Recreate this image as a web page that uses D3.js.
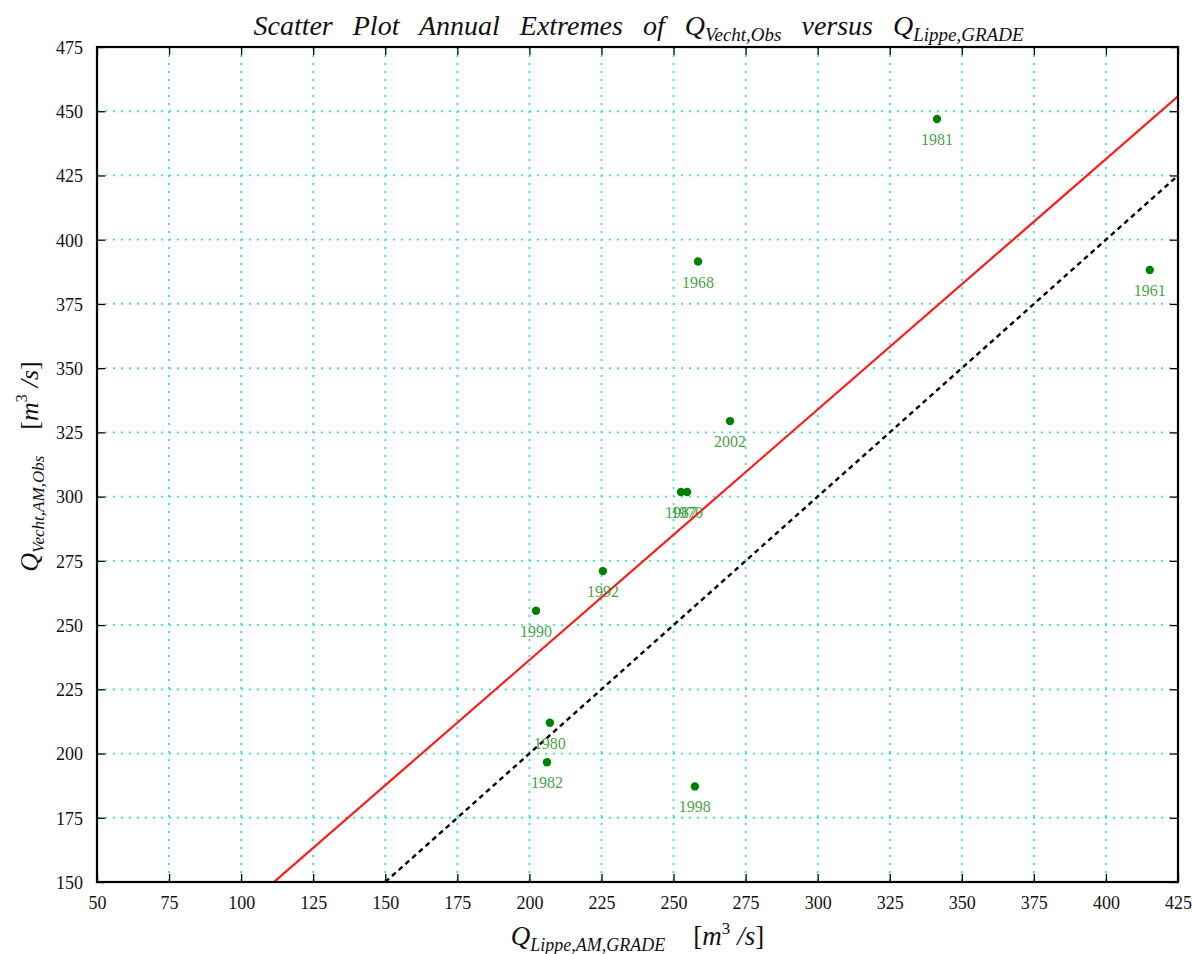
<!DOCTYPE html>
<html>
<head>
<meta charset="utf-8">
<script src="https://cdn.jsdelivr.net/npm/d3@7"></script>
<style>
  html, body { margin: 0; padding: 0; background: #fff; }
  svg { display: block; }
  text { font-family: "Liberation Serif", "DejaVu Serif", serif; }
</style>
</head>
<body>
<div id="chart"></div>
<script>
// Annual maxima: GRADE-simulated Lippe discharge vs observed Vecht discharge
const years  = [1981, 1968, 1961, 2002, 1987, 1970, 1992, 1990, 1980, 1982, 1998];
const qLippe = [341.4, 258.5, 415.2, 269.6, 252.6, 254.7, 225.5, 202.3, 207.1, 206.1, 257.4];
const qVecht = [447.0, 391.5, 388.2, 329.4, 301.8, 301.8, 271.0, 255.6, 212.0, 196.6, 187.2];

// Fitted line and 1:1 reference line
const fitSlope = 0.975;
const fitIntercept = 41.4;
const oneToOne = [[150, 150], [425, 425]];

// Axes
const xDomain = [50, 425];
const yDomain = [150, 475];
const xTicks = [50, 75, 100, 125, 150, 175, 200, 225, 250, 275, 300, 325, 350, 375, 400, 425];
const yTicks = [150, 175, 200, 225, 250, 275, 300, 325, 350, 375, 400, 425, 450, 475];

const W = 1192, H = 954;
const margin = { left: 97, right: 14, top: 47, bottom: 72 };
const plotW = W - margin.left - margin.right;
const plotH = H - margin.top - margin.bottom;

const svg = d3.select("#chart").append("svg").attr("width", W).attr("height", H);

const x = d3.scaleLinear().domain(xDomain).range([0, plotW]);
const y = d3.scaleLinear().domain(yDomain).range([plotH, 0]);

const g = svg.append("g").attr("transform", `translate(${margin.left},${margin.top})`);

svg.append("defs").append("clipPath").attr("id", "plotClip")
  .append("rect").attr("width", plotW).attr("height", plotH);

// Dotted cyan grid
const gridColor = "#38dede";
const grid = g.append("g");
grid.selectAll("line.vx").data(xTicks).join("line")
  .attr("x1", d => x(d)).attr("x2", d => x(d)).attr("y1", 0).attr("y2", plotH)
  .attr("stroke", gridColor).attr("stroke-width", 1.8).attr("stroke-dasharray", "2,6");
grid.selectAll("line.hy").data(yTicks).join("line")
  .attr("x1", 0).attr("x2", plotW).attr("y1", d => y(d)).attr("y2", d => y(d))
  .attr("stroke", gridColor).attr("stroke-width", 1.8).attr("stroke-dasharray", "2,6");

const lines = g.append("g").attr("clip-path", "url(#plotClip)");

// Fitted regression line
const fitX = [xDomain[0], xDomain[1]];
lines.append("path")
  .datum(fitX.map(v => [v, fitSlope * v + fitIntercept]))
  .attr("d", d3.line().x(d => x(d[0])).y(d => y(d[1])))
  .attr("fill", "none").attr("stroke", "#ff1a1a").attr("stroke-width", 2.2);

// 1:1 line
lines.append("path")
  .datum(oneToOne)
  .attr("d", d3.line().x(d => x(d[0])).y(d => y(d[1])))
  .attr("fill", "none").attr("stroke", "#000").attr("stroke-width", 2.4)
  .attr("stroke-dasharray", "5,4");

// Points and year labels
const pts = years.map((yr, i) => ({ yr, xv: qLippe[i], yv: qVecht[i] }));
g.append("g").selectAll("circle").data(pts).join("circle")
  .attr("cx", d => x(d.xv)).attr("cy", d => y(d.yv)).attr("r", 4.2)
  .attr("fill", "#008000");
g.append("g").selectAll("text").data(pts).join("text")
  .attr("x", d => x(d.xv)).attr("y", d => y(d.yv) + 26)
  .attr("text-anchor", "middle").attr("font-size", 16)
  .attr("fill", "#2e962e").attr("fill-opacity", 0.9)
  .text(d => d.yr);

// Axes with inward ticks on all four sides
const fmt = d3.format("d");
const axB = g.append("g").attr("transform", `translate(0,${plotH})`)
  .call(d3.axisBottom(x).tickValues(xTicks).tickFormat(fmt).tickSizeInner(-8).tickSizeOuter(0).tickPadding(14));
const axT = g.append("g")
  .call(d3.axisTop(x).tickValues(xTicks).tickFormat("").tickSizeInner(-8).tickSizeOuter(0));
const axL = g.append("g")
  .call(d3.axisLeft(y).tickValues(yTicks).tickFormat(fmt).tickSizeInner(-8).tickSizeOuter(0).tickPadding(14));
const axR = g.append("g").attr("transform", `translate(${plotW},0)`)
  .call(d3.axisRight(y).tickValues(yTicks).tickFormat("").tickSizeInner(-8).tickSizeOuter(0));
[axB, axT, axL, axR].forEach(a => {
  a.select(".domain").remove();
  a.selectAll(".tick line").attr("stroke", "#000").attr("stroke-width", 1.3);
  a.selectAll(".tick text").attr("font-size", 18).attr("fill", "#111")
    .attr("font-family", "'Liberation Serif', serif");
});
axL.selectAll(".tick text").attr("dy", "0.35em");

// Frame
g.append("rect").attr("width", plotW).attr("height", plotH)
  .attr("fill", "none").attr("stroke", "#000").attr("stroke-width", 2.2);

// Title
const title = svg.append("text").attr("x", margin.left + plotW / 2 + 1).attr("y", 35)
  .attr("text-anchor", "middle").attr("font-size", 28).attr("font-style", "italic")
  .attr("fill", "#111").attr("word-spacing", 13);
title.append("tspan").text("Scatter Plot Annual Extremes of Q");
title.append("tspan").attr("font-size", 19).attr("dy", 6).text("Vecht,Obs");
title.append("tspan").attr("dy", -6).text(" versus Q");
title.append("tspan").attr("font-size", 19).attr("dy", 6).text("Lippe,GRADE");

// X-axis label
const xl = svg.append("text").attr("x", margin.left + plotW / 2).attr("y", 945)
  .attr("text-anchor", "middle").attr("font-size", 27).attr("fill", "#111");
xl.append("tspan").attr("font-style", "italic").text("Q");
xl.append("tspan").attr("font-style", "italic").attr("font-size", 18).attr("dy", 6).text("Lippe,AM,GRADE");
xl.append("tspan").attr("dy", -6).attr("dx", 28).text("[");
xl.append("tspan").attr("font-style", "italic").text("m");
xl.append("tspan").attr("font-size", 17).attr("dy", -11).text("3");
xl.append("tspan").attr("dy", 11).attr("dx", 7).attr("font-style", "italic").text("/s");
xl.append("tspan").text("]");

// Y-axis label
const yl = svg.append("text")
  .attr("transform", `translate(38,${margin.top + plotH / 2 + 2}) rotate(-90)`)
  .attr("text-anchor", "middle").attr("font-size", 26).attr("fill", "#111");
yl.append("tspan").attr("font-style", "italic").text("Q");
yl.append("tspan").attr("font-style", "italic").attr("font-size", 17).attr("dy", 6).text("Vecht,AM,Obs");
yl.append("tspan").attr("dy", -6).attr("dx", 26).text("[");
yl.append("tspan").attr("font-style", "italic").text("m");
yl.append("tspan").attr("font-size", 16).attr("dy", -11).text("3");
yl.append("tspan").attr("dy", 11).attr("dx", 7).attr("font-style", "italic").text("/s");
yl.append("tspan").text("]");
</script>
</body>
</html>
